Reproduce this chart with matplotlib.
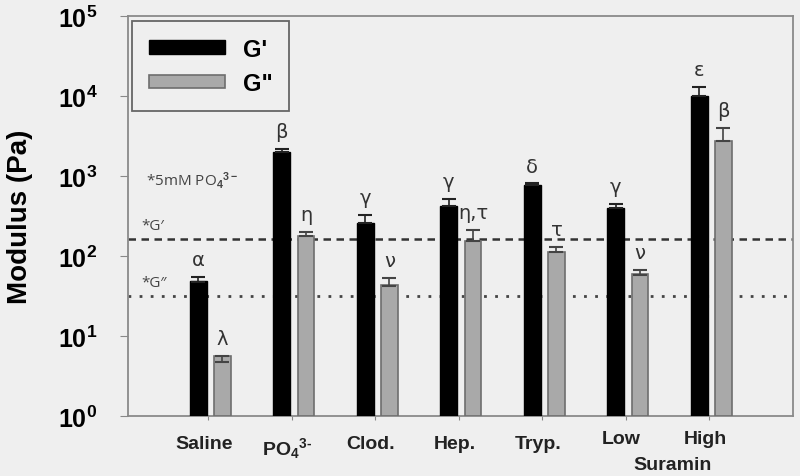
import matplotlib
matplotlib.use("Agg")
import matplotlib.pyplot as plt
import matplotlib.transforms as mtrans
import numpy as np

plt.rcParams['font.family'] = ['Liberation Sans', 'DejaVu Sans']
plt.rcParams['mathtext.fontset'] = 'custom'
plt.rcParams['mathtext.rm'] = 'Liberation Sans:bold'
plt.rcParams['mathtext.bf'] = 'Liberation Sans:bold'
plt.rcParams['mathtext.it'] = 'Liberation Sans:bold'

categories = ['Saline', 'PO$_4$$^{3\\text{-}}$', 'Clod.', 'Hep.', 'Tryp.', 'Low', 'High']
group_label = 'Suramin'
g1 = [47, 2000, 257, 422, 770, 398, 10000]
g1_err = [8, 180, 67, 93, 40, 48, 3000]
g2 = [4.7, 178, 42, 154, 112, 58, 2750]
g2_err = [0.9, 22, 11, 57, 18, 9, 1250]
g1_labels = ['α', 'β', 'γ', 'γ', 'δ', 'γ', 'ε']
g2_labels = ['λ', 'η', 'ν', 'η,τ', 'τ', 'ν', 'β']
ref_g1 = 165
ref_g2 = 31.6

bg = '#efefef'
fig = plt.figure(figsize=(8, 4.77), dpi=100, facecolor=bg)
ax = fig.add_axes([0.16, 0.1258, 0.831, 0.8386], facecolor=bg)

x = np.arange(1, len(categories) + 1)
w = 0.2
xb = x - 0.12
xg = x + 0.17
ax.bar(xb, g1, width=w, bottom=1, color='black', edgecolor='black', zorder=3, label="G'")
ax.errorbar(xb, g1, yerr=[np.zeros(len(g1)), g1_err], fmt='none', ecolor='#222222',
            capsize=5, elinewidth=1.2, capthick=1.5, zorder=4)
ax.bar(xg, g2, width=w, bottom=1, color='#a9a9a9', edgecolor='#6e6e6e', linewidth=1.2,
       zorder=3, label='G"')
ax.errorbar(xg, g2, yerr=[np.zeros(len(g2)), g2_err], fmt='none', ecolor='#444444',
            capsize=5, elinewidth=1.2, capthick=1.5, zorder=4)

ax.axhline(ref_g1, color='#333333', linestyle=(0, (3, 2.2)), linewidth=1.8, zorder=2)
ax.axhline(ref_g2, color='#444444', linestyle=(0, (1, 3)), linewidth=2.0, zorder=2)

for xi, v, e, lab in zip(xb, g1, g1_err, g1_labels):
    ax.text(xi, (v + e) * 1.25, lab, ha='center', va='bottom', fontsize=14,
            color='#333333', fontfamily='DejaVu Sans')
for xi, v, e, lab in zip(xg, g2, g2_err, g2_labels):
    ax.text(xi, (v + e) * 1.25, lab, ha='center', va='bottom', fontsize=14,
            color='#333333', fontfamily='DejaVu Sans')

ax.text(0.25, 900, '*5mM PO$_4$$^{3-}$', fontsize=11, color='#444444', va='center',
        fontfamily='Open Sans')
ax.text(0.2, 240, "*G′", fontsize=11, color='#444444', va='center', fontfamily='Open Sans')
ax.text(0.2, 46, "*G″", fontsize=11, color='#444444', va='center', fontfamily='Open Sans')

ax.set_yscale('log')
ax.set_ylim(1, 1e5)
ax.set_xlim(0.04, 8.0)
ax.set_yticks([1, 10, 100, 1000, 1e4, 1e5])
ax.set_yticklabels(['$10^{%d}$' % i for i in range(6)], fontsize=18)
ax.yaxis.set_minor_locator(matplotlib.ticker.NullLocator())
ax.set_xticks(x)
ax.set_xticklabels(categories, fontsize=14, fontweight='bold', color='#222222')
ax.tick_params(axis='x', length=3, color='#888888', pad=11)
ax.tick_params(axis='y', length=6, color='#888888', pad=16)
for lbl in ax.get_xticklabels():
    lbl.set_transform(lbl.get_transform() + mtrans.ScaledTranslation(-3 / 72, 0, fig.dpi_scale_trans))
for lbl in ax.get_xticklabels()[5:]:
    lbl.set_transform(lbl.get_transform() + mtrans.ScaledTranslation(0, 4 / 72, fig.dpi_scale_trans))
for s in ax.spines.values():
    s.set_color('#8a8a8a')
    s.set_linewidth(1.3)

ax.set_ylabel('Modulus (Pa)', fontsize=20, fontweight='bold')
ax.yaxis.set_label_coords(-0.143, 0.5)
fig.text(0.841, 1 - 466 / 477, group_label, fontsize=14, fontweight='bold', color='#222222',
         ha='center', va='center')

leg = ax.legend(loc='upper left', prop={'weight': 'bold', 'size': 17},
                handlelength=3.25, handleheight=0.5, borderpad=0.7, labelspacing=0.48,
                handletextpad=0.76, borderaxespad=0,
                fancybox=False, edgecolor='#666666', facecolor=bg, framealpha=1,
                bbox_to_anchor=(0.006, 0.9875))
leg.get_frame().set_linewidth(1.3)

fig.savefig('out.png', dpi=100, facecolor=bg)
